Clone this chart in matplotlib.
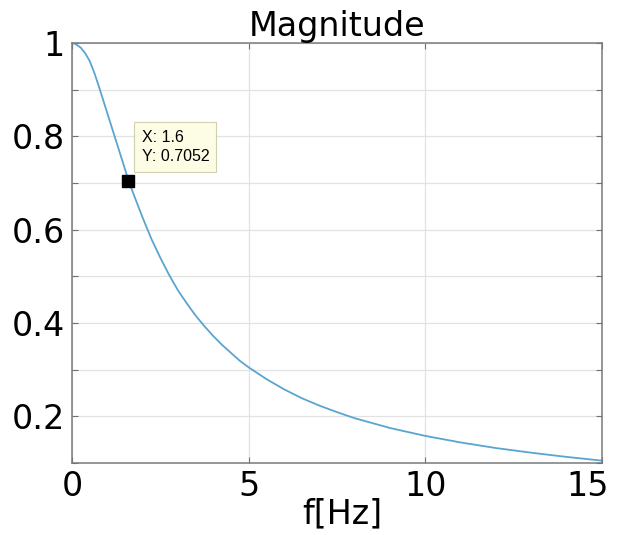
import numpy as np
import matplotlib
matplotlib.use("Agg")
import matplotlib.pyplot as plt
from matplotlib.transforms import ScaledTranslation

# magnitude response
freq_hz = [0, 0.1, 0.25, 0.375, 0.5, 0.625, 0.75, 1.0, 1.25, 1.5, 1.6, 1.75, 2.0,
           2.25, 2.5, 2.75, 3.0, 3.25, 3.5, 3.75, 4.0, 4.25, 4.5, 4.75, 5.0,
           5.5, 6.0, 6.5, 7.0, 7.5, 8.0, 9.0, 10.0, 11.0, 12.0, 13.0, 14.0, 15.0]
magnitude = [1.0, 0.998, 0.99, 0.978, 0.962, 0.938, 0.91, 0.85, 0.79, 0.73, 0.7052,
             0.675, 0.626, 0.58, 0.54, 0.503, 0.47, 0.442, 0.416, 0.393, 0.372,
             0.353, 0.336, 0.319, 0.305, 0.28, 0.258, 0.239, 0.223, 0.209, 0.196,
             0.175, 0.158, 0.144, 0.132, 0.122, 0.113, 0.105]

tip_x, tip_y = 1.6, 0.7052

x_ticks = [0, 5, 10, 15]
y_ticks = [0.1, 0.2, 0.3, 0.4, 0.5, 0.6, 0.7, 0.8, 0.9, 1.0]
y_labels = ["", "0.2", "", "0.4", "", "0.6", "", "0.8", "", "1"]

fig = plt.figure(figsize=(6.2, 5.35), dpi=100)
ax = fig.add_axes([0.116, 0.1346, 0.855, 0.785])

ax.plot(freq_hz, magnitude, color="#5aa5cf", lw=1.3)
ax.plot([tip_x], [tip_y], marker="s", ms=8, color="black", ls="none")

ax.set_xlim(0, 15)
ax.set_ylim(0.1, 1.0)
ax.set_xticks(x_ticks)
ax.set_yticks(y_ticks)
ax.set_yticklabels(y_labels)
ax.tick_params(direction="in", length=4, width=0.8, color="#707070",
               labelsize=24, top=True, right=True, pad=5)
ax.grid(True, color="#e2e2e2", lw=0.9)
ax.set_axisbelow(True)
for s in ax.spines.values():
    s.set_color("#7a7a7a")
    s.set_linewidth(1.1)

# last x label is pulled inside the figure like in the original
last = ax.get_xticklabels()[-1]
last.set_transform(last.get_transform() + ScaledTranslation(-0.14, 0, fig.dpi_scale_trans))

ax.set_title("Magnitude", fontsize=24, pad=5)
ax.set_xlabel("f[Hz]", fontsize=24, labelpad=-4)
ax.xaxis.label.set_x(0.511)

# data tip box
ax.annotate("X: 1.6\nY: 0.7052", xy=(tip_x, tip_y), xytext=(9.5, 11.7),
            textcoords="offset points", fontsize=11.5, family="Liberation Sans",
            va="bottom", ha="left", linespacing=1.4,
            bbox=dict(boxstyle="square,pad=0.45", fc="#fdfde6", ec="#d0d0b0", lw=0.8))

fig.savefig("out.png", dpi=100)
